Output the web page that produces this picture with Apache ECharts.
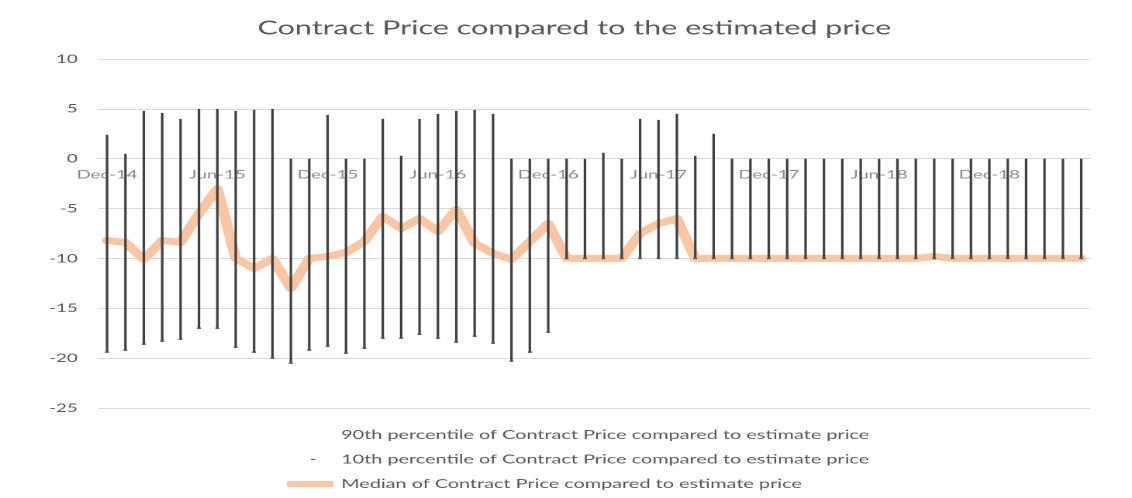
<!DOCTYPE html>
<html>
<head>
<meta charset="utf-8">
<script src="https://cdn.jsdelivr.net/npm/echarts@6/dist/echarts.min.js"></script>
<style>
  html, body { margin: 0; padding: 0; background: #ffffff; }
  #wrap { width: 1132px; height: 498px; overflow: hidden; position: relative; background: #ffffff; }
  #chart { width: 730px; height: 498px; transform: scaleX(1.5507); transform-origin: 0 0; }
</style>
</head>
<body>
<div id="wrap"><div id="chart"></div></div>
<script>
// ---- data ----
var categories = [
  'Dec-14','Jan-15','Feb-15','Mar-15','Apr-15','May-15','Jun-15','Jul-15','Aug-15','Sep-15','Oct-15','Nov-15',
  'Dec-15','Jan-16','Feb-16','Mar-16','Apr-16','May-16','Jun-16','Jul-16','Aug-16','Sep-16','Oct-16','Nov-16',
  'Dec-16','Jan-17','Feb-17','Mar-17','Apr-17','May-17','Jun-17','Jul-17','Aug-17','Sep-17','Oct-17','Nov-17',
  'Dec-17','Jan-18','Feb-18','Mar-18','Apr-18','May-18','Jun-18','Jul-18','Aug-18','Sep-18','Oct-18','Nov-18',
  'Dec-18','Jan-19','Feb-19','Mar-19','Apr-19','May-19'
];
var p90 = [
  2.4, 0.5, 4.8, 4.6, 4.0, 5.0, 5.0, 4.8, 4.9, 5.0, 0, 0,
  4.4, 0, 0, 4.0, 0.3, 4.0, 4.5, 4.8, 4.9, 4.5, 0, 0,
  0, 0, 0, 0.6, 0, 4.0, 3.9, 4.5, 0.3, 2.5, 0, 0,
  0, 0, 0, 0, 0, 0, 0, 0, 0, 0, 0, 0,
  0, 0, 0, 0, 0, 0
];
var p10 = [
  -19.4, -19.2, -18.6, -18.3, -18.1, -17.0, -17.0, -18.9, -19.4, -20.0, -20.5, -19.2,
  -18.8, -19.5, -19.0, -18.0, -18.0, -17.6, -18.0, -18.4, -17.8, -18.5, -20.3, -19.4,
  -17.4, -10, -10, -10, -10, -10, -10, -10, -10, -10, -10, -10,
  -10, -10, -10, -10, -10, -10, -10, -10, -10, -10, -10, -10,
  -10, -10, -10, -10, -10, -10
];
var median = [
  -8.2, -8.4, -10.1, -8.2, -8.4, -5.5, -3.0, -10.0, -11.0, -10.0, -13.0, -10.0,
  -9.8, -9.4, -8.3, -5.8, -7.0, -6.0, -7.3, -5.1, -8.5, -9.5, -10.1, -8.3,
  -6.5, -10, -10, -10, -10, -7.5, -6.5, -6.0, -10, -10, -10, -10,
  -10, -10, -10, -10, -10, -10, -10, -10, -10, -9.8, -10, -10,
  -10, -10, -10, -10, -10, -10
];
var yTicks = { min: -25, max: 10, interval: 5 };
var seriesNames = [
  '90th percentile of Contract Price compared to estimate price',
  '10th percentile of Contract Price compared to estimate price',
  'Median of Contract Price compared to estimate price'
];
var titleText = 'Contract Price compared to the estimated price';

// ---- chart ----
var FONT = 'Lato, "Open Sans", sans-serif';
var H = 498, GRID_TOP = 59, GRID_BOTTOM = 90;
var plotH = H - GRID_TOP - GRID_BOTTOM;
// category axis crosses the value axis at 0 (Excel style)
var zeroOffset = -plotH * (0 - yTicks.min) / (yTicks.max - yTicks.min);

var chart = echarts.init(document.getElementById('chart'), null, { devicePixelRatio: 2 });
var hlData = categories.map(function (c, i) { return [i, p10[i], p90[i]]; });

chart.setOption({
  animation: false,
  backgroundColor: '#ffffff',
  title: {
    text: titleText,
    left: 166,
    top: 18,
    padding: 0,
    textStyle: { fontFamily: FONT, fontSize: 19.7, fontWeight: 'normal', color: '#595959' }
  },
  legend: {
    orient: 'vertical',
    left: 185,
    top: 428,
    padding: 0,
    itemWidth: 30,
    itemHeight: 6,
    itemGap: 10.5,
    selectedMode: false,
    textStyle: { fontFamily: FONT, fontSize: 12.8, color: '#595959', lineHeight: 14 },
    data: [
      { name: seriesNames[0], icon: 'rect', itemStyle: { color: 'rgba(0,0,0,0)' } },
      { name: seriesNames[1], icon: 'path://M0,0M30,6M15.6,2.4h2.6v1.2h-2.6z', itemStyle: { color: '#595959' } },
      { name: seriesNames[2], icon: 'rect', itemStyle: { color: '#F8C6A2' } }
    ]
  },
  grid: { left: 63.1, right: 26.8, top: GRID_TOP, bottom: GRID_BOTTOM },
  xAxis: {
    type: 'category',
    data: categories,
    boundaryGap: true,
    position: 'bottom',
    offset: zeroOffset,
    axisLine: { show: true, onZero: false, lineStyle: { color: '#d9d9d9', width: 1 } },
    axisTick: { show: false },
    axisLabel: { interval: 5, margin: 10, fontFamily: FONT, fontSize: 12, color: '#8a8a8a' },
    splitLine: { show: false }
  },
  yAxis: {
    type: 'value',
    min: yTicks.min,
    max: yTicks.max,
    interval: yTicks.interval,
    axisLine: { show: false },
    axisTick: { show: false },
    axisLabel: { margin: 13, fontFamily: FONT, fontSize: 12, color: '#595959' },
    splitLine: { lineStyle: { color: '#d9d9d9', width: 1 } }
  },
  series: [
    {
      name: seriesNames[2],
      type: 'line',
      data: median,
      symbol: 'none',
      smooth: false,
      z: 2,
      itemStyle: { color: '#F8C6A2' },
      lineStyle: { color: '#F8C6A2', width: 7, join: 'round', cap: 'round' }
    },
    {
      name: 'hilo',
      type: 'custom',
      data: hlData,
      encode: { x: 0, y: [1, 2] },
      z: 3,
      silent: true,
      renderItem: function (params, api) {
        var lo = api.coord([api.value(0), api.value(1)]);
        var hi = api.coord([api.value(0), api.value(2)]);
        return {
          type: 'line',
          shape: { x1: lo[0], y1: lo[1], x2: hi[0], y2: hi[1] },
          style: { stroke: '#404040', lineWidth: 1.6 }
        };
      }
    },
    {
      name: seriesNames[0],
      type: 'line',
      data: p90,
      symbol: 'none',
      itemStyle: { color: 'rgba(0,0,0,0)' },
      lineStyle: { width: 0, opacity: 0 },
      z: 1
    },
    {
      name: seriesNames[1],
      type: 'line',
      data: p10,
      symbol: 'rect',
      symbolSize: [2.5, 1.5],
      showSymbol: true,
      itemStyle: { color: '#595959' },
      lineStyle: { width: 0, opacity: 0 },
      z: 4
    }
  ]
});
</script>
</body>
</html>
